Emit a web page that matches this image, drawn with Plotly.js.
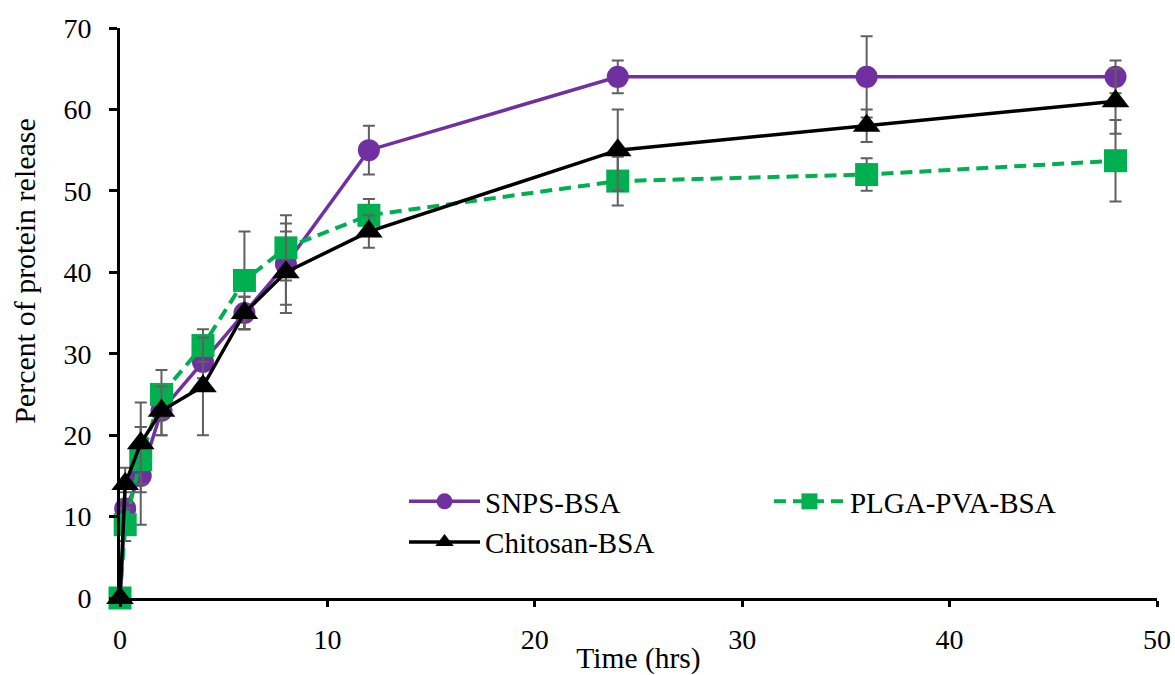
<!DOCTYPE html>
<html>
<head>
<meta charset="utf-8">
<script src="https://cdn.plot.ly/plotly-3.0.1.min.js"></script>
<style>
  html, body { margin: 0; padding: 0; background: #fff; }
  #chart { width: 1175px; height: 675px; }
</style>
</head>
<body>
<div id="chart"></div>
<script>
// Sampling times (hours)
const timeHrs = [0, 0.25, 1, 2, 4, 6, 8, 12, 24, 36, 48];

// Cumulative protein release (%) and standard deviations
const snpsBsa = [0, 11, 15, 23, 29, 35, 41, 55, 64, 64, 64];
const snpsBsaErr = [0, 2, 6, 3, 2, 2, 5, 3, 2, 5, 2];

const plgaPvaBsa = [0, 9, 17, 25, 31, 39, 43, 47, 51.2, 52, 53.7];
const plgaPvaBsaErr = [0, 2, 4, 3, 2, 6, 4, 2, 3, 2, 5];

const chitosanBsa = [0, 14, 19, 23, 26, 35, 40, 45, 55, 58, 61];
const chitosanBsaErr = [0, 2, 5, 3, 6, 2, 5, 2, 5, 2, 4];

const seriesNames = ['SNPS-BSA', 'PLGA-PVA-BSA', 'Chitosan-BSA'];
const xTitle = 'Time (hrs)';
const yTitle = 'Percent of protein release';

const FONT = '"Liberation Serif", "Times New Roman", serif';
const errStyle = (arr) => ({
  type: 'data', array: arr, visible: true,
  color: '#606060', thickness: 2, width: 6
});

const traces = [
  {
    x: timeHrs, y: snpsBsa, name: seriesNames[0], legend: 'legend',
    mode: 'lines+markers', type: 'scatter', cliponaxis: false,
    line: { color: '#7030A0', width: 3.5 },
    marker: { symbol: 'circle', size: 22, color: '#7030A0' },
    error_y: errStyle(snpsBsaErr)
  },
  {
    x: timeHrs, y: plgaPvaBsa, name: seriesNames[1], legend: 'legend2',
    mode: 'lines+markers', type: 'scatter', cliponaxis: false,
    line: { color: '#00B050', width: 4, dash: '12px,7px' },
    marker: { symbol: 'square', size: 23, color: '#00B050' },
    error_y: errStyle(plgaPvaBsaErr)
  },
  {
    x: timeHrs, y: chitosanBsa, name: seriesNames[2], legend: 'legend',
    mode: 'lines+markers', type: 'scatter', cliponaxis: false,
    line: { color: '#000000', width: 3.5 },
    marker: { symbol: 'triangle-up', size: 24, color: '#000000' },
    error_y: errStyle(chitosanBsaErr)
  }
];

const legendCommon = {
  bgcolor: 'rgba(0,0,0,0)',
  font: { family: FONT, size: 29, color: '#000' },
  itemwidth: 71,
  tracegroupgap: 0,
  yanchor: 'top'
};

const layout = {
  width: 1175, height: 675,
  paper_bgcolor: '#fff', plot_bgcolor: '#fff',
  margin: { l: 120, r: 18, t: 28, b: 77 },
  font: { family: FONT, size: 28, color: '#000' },
  showlegend: true,
  legend: Object.assign({}, legendCommon, { x: 0.2739, y: 0.214, xanchor: 'left' }),
  legend2: Object.assign({}, legendCommon, { x: 0.6258, y: 0.214, xanchor: 'left' }),
  xaxis: {
    range: [0, 50], dtick: 10, tick0: 0,
    showgrid: false, zeroline: false,
    showline: true, linecolor: '#000', linewidth: 3,
    ticks: 'outside', ticklen: 6, tickwidth: 3, tickcolor: '#000',
    ticklabelstandoff: 8,
    tickfont: { family: FONT, size: 28, color: '#000' },
    title: { text: xTitle, font: { family: FONT, size: 29.5, color: '#000' }, standoff: 2 }
  },
  yaxis: {
    range: [0, 70], dtick: 10, tick0: 0,
    showgrid: false, zeroline: false,
    showline: true, linecolor: '#000', linewidth: 3,
    ticks: 'outside', ticklen: 8, tickwidth: 3, tickcolor: '#000',
    ticklabelstandoff: 12,
    tickfont: { family: FONT, size: 28, color: '#000' }
  },
  // Y-axis title placed as a rotated annotation so it can sit above the axis midpoint
  annotations: [{
    text: yTitle, xref: 'paper', yref: 'paper',
    x: -95 / 1037, y: 0.574, xanchor: 'center', yanchor: 'middle',
    textangle: -90, showarrow: false,
    font: { family: FONT, size: 30, color: '#000' }
  }]
};

Plotly.newPlot('chart', traces, layout, { displayModeBar: false, staticPlot: true });
</script>
</body>
</html>
